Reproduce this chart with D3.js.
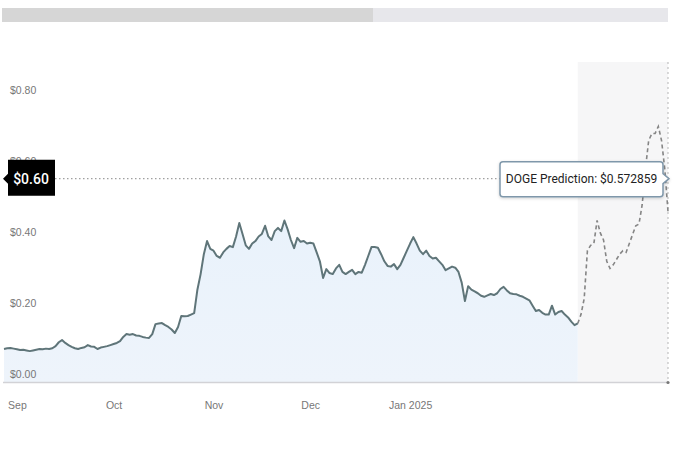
<!DOCTYPE html>
<html><head><meta charset="utf-8">
<script src="https://cdn.jsdelivr.net/npm/d3@7"></script>
<style>
html,body{margin:0;padding:0;background:#fff;}
svg{display:block;font-family:Roboto, "Liberation Sans", Arial, sans-serif;}
</style></head>
<body><svg id="chart" width="680" height="453"></svg>
<script>
// ---- data ----
const histStart = "2024-08-28";
const histValues = [
0.093,0.095,0.096,0.094,0.092,0.090,0.091,0.089,0.087,0.089,
0.091,0.093,0.092,0.094,0.093,0.095,0.101,0.112,0.118,0.110,
0.104,0.099,0.095,0.093,0.096,0.098,0.104,0.100,0.099,0.093,
0.097,0.099,0.101,0.104,0.107,0.110,0.115,0.127,0.135,0.133,
0.135,0.131,0.130,0.127,0.125,0.124,0.135,0.163,0.165,0.166,
0.160,0.155,0.148,0.138,0.155,0.186,0.185,0.186,0.190,0.194,
0.260,0.304,0.360,0.397,0.375,0.370,0.355,0.350,0.365,0.375,
0.383,0.380,0.410,0.448,0.417,0.385,0.375,0.390,0.397,0.410,
0.417,0.440,0.410,0.400,0.425,0.434,0.425,0.455,0.430,0.400,
0.377,0.406,0.395,0.397,0.390,0.392,0.390,0.365,0.340,0.293,
0.318,0.307,0.304,0.320,0.330,0.310,0.304,0.310,0.316,0.304,
0.310,0.308,0.330,0.355,0.380,0.380,0.378,0.360,0.340,0.327,
0.325,0.332,0.318,0.330,0.350,0.370,0.390,0.408,0.390,0.370,
0.360,0.370,0.355,0.348,0.350,0.340,0.330,0.315,0.320,0.325,
0.322,0.310,0.280,0.228,0.270,0.260,0.255,0.250,0.243,0.240,
0.244,0.248,0.245,0.250,0.262,0.268,0.258,0.250,0.248,0.247,
0.243,0.240,0.235,0.230,0.215,0.200,0.203,0.195,0.190,0.190,
0.215,0.190,0.197,0.200,0.190,0.182,0.170,0.160,0.165];
const predStart = "2025-02-22";
const predValues = [0.165,0.190,0.235,0.370,0.385,0.390,0.455,0.420,0.400,0.340,
0.320,0.330,0.345,0.360,0.370,0.365,0.390,0.415,0.440,0.445,
0.500,0.600,0.680,0.700,0.700,0.720,0.680,0.600,0.480];
const predictionValue = 0.572859;
const predictionLabel = "DOGE Prediction: $0.572859";
const markerLabel = "$0.60";
const yTicks = [0, 0.2, 0.4, 0.6, 0.8];
const xTickDates = ["2024-09-01","2024-10-01","2024-11-01","2024-12-01","2025-01-01"];
const xTickLabels = ["Sep","Oct","Nov","Dec","Jan 2025"];

// ---- build ----
const parse = d3.utcParse("%Y-%m-%d");
const hist = histValues.map((v,i)=>({date:d3.utcDay.offset(parse(histStart),i), value:v}));
const pred = predValues.map((v,i)=>({date:d3.utcDay.offset(parse(predStart),i), value:v}));

const svg = d3.select("#chart");
const defs = svg.append("defs");
const x = d3.scaleUtc().domain([parse(histStart), pred[pred.length-1].date]).range([4, 668]);
const y = d3.scaleLinear().domain([0, 0.8]).range([382, 98]);

// top bar (scroll/range bar)
svg.append("rect").attr("x",2).attr("y",8).attr("width",666).attr("height",14).attr("fill","#e7e7eb");
svg.append("rect").attr("x",2).attr("y",8).attr("width",371).attr("height",14).attr("fill","#d6d6d6");

// prediction shaded region
const px0 = x(pred[0].date), px1 = x(pred[pred.length-1].date);
svg.append("rect").attr("x",px0).attr("y",62).attr("width",px1-px0).attr("height",382-62).attr("fill","#f6f6f7");

// area under history
const area = d3.area().x(d=>x(d.date)).y0(y(0)).y1(d=>y(d.value));
const grad = defs.append("linearGradient").attr("id","ag").attr("x1",0).attr("y1",0).attr("x2",0).attr("y2",1);
grad.append("stop").attr("offset","0%").attr("stop-color","#e9f2fb");
grad.append("stop").attr("offset","100%").attr("stop-color","#eef4fb");
svg.append("path").datum(hist).attr("d",area).attr("fill","url(#ag)");

// baseline
svg.append("line").attr("x1",3).attr("x2",668).attr("y1",y(0)+0.5).attr("y2",y(0)+0.5).attr("stroke","#d2d2d6").attr("stroke-width",1.5);
// right dotted edge
svg.append("line").attr("x1",px1).attr("x2",px1).attr("y1",62).attr("y2",y(0)).attr("stroke","#b5b5b5").attr("stroke-dasharray","2,3");
svg.append("circle").attr("cx",px1).attr("cy",y(0)+0.5).attr("r",1.6).attr("fill","#777");

// y axis labels
const yAxis = d3.axisRight(y).tickValues(yTicks).tickSize(0).tickFormat(d=>"$"+d.toFixed(2));
const yg = svg.append("g").attr("transform","translate(10,0)").call(yAxis);
yg.select(".domain").remove();
yg.selectAll("text").attr("x",0).attr("dy","-0.45em").style("fill","#777").style("font-size","10.5px").attr("text-anchor","start");

// x axis labels
const xAxis = d3.axisBottom(x).tickValues(xTickDates.map(parse)).tickSize(0).tickPadding(20)
  .tickFormat((d,i)=>xTickLabels[i]);
const xg = svg.append("g").attr("transform",`translate(0,${y(0)})`).call(xAxis);
xg.select(".domain").remove();
xg.selectAll("text").style("fill","#777").style("font-size","10.5px");

// lines
const line = d3.line().x(d=>x(d.date)).y(d=>y(d.value));
svg.append("path").datum(pred).attr("d",line).attr("fill","none").attr("stroke","#858585").attr("stroke-width",1.6).attr("stroke-dasharray","4,3");
svg.append("path").datum(hist).attr("d",line).attr("fill","none").attr("stroke","#5f7579").attr("stroke-width",2).attr("stroke-linejoin","round");

// prediction dotted level line
const py = y(predictionValue);
svg.append("line").attr("x1",55).attr("x2",500).attr("y1",py).attr("y2",py).attr("stroke","#a0a0a0").attr("stroke-width",1.2).attr("stroke-dasharray","1.5,2.5");

// black marker label on the left
svg.append("path").attr("d",`M3,${py} L8,${py-5} L8,${py-19} L55,${py-19} L55,${py+17} L8,${py+17} L8,${py+5} Z`).attr("fill","#000");
svg.append("text").attr("x",31).attr("y",py).attr("dy","0.35em").attr("text-anchor","middle").attr("fill","#fff").style("font-size","14px").style("font-weight","500").text(markerLabel);

// prediction callout
const flt = defs.append("filter").attr("id","sh").attr("x","-10%").attr("y","-30%").attr("width","120%").attr("height","160%");
flt.append("feDropShadow").attr("dx",0).attr("dy",1).attr("stdDeviation",1.5).attr("flood-color","#000").attr("flood-opacity",0.18);
const bx0=500, bx1=663, by0=py-17, by1=py+18;
svg.append("path").attr("d",`M${bx0+3},${by0} L${bx1-3},${by0} Q${bx1},${by0} ${bx1},${by0+3} L${bx1},${py-5} L${bx1+6},${py} L${bx1},${py+5} L${bx1},${by1-3} Q${bx1},${by1} ${bx1-3},${by1} L${bx0+3},${by1} Q${bx0},${by1} ${bx0},${by1-3} L${bx0},${by0+3} Q${bx0},${by0} ${bx0+3},${by0} Z`)
  .attr("fill","#fff").attr("stroke","#7f97aa").attr("stroke-width",1.5).attr("filter","url(#sh)");
svg.append("text").attr("x",(bx0+bx1)/2).attr("y",py).attr("dy","0.35em").attr("text-anchor","middle").attr("fill","#222").style("font-size","12px").text(predictionLabel);
</script></body></html>
